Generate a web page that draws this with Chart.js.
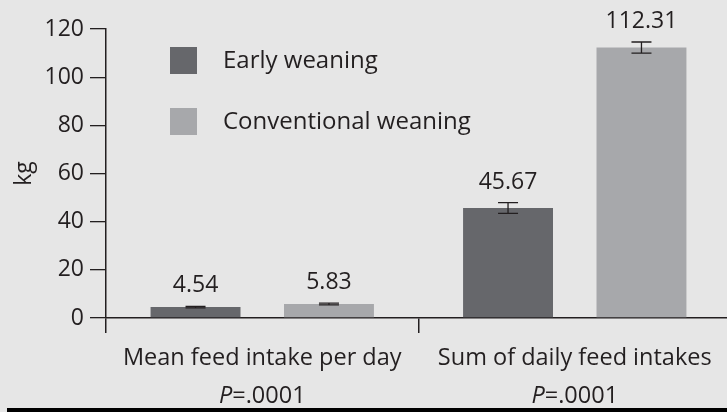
<!DOCTYPE html>
<html>
<head>
<meta charset="utf-8">
<script src="https://cdn.jsdelivr.net/npm/chart.js@4/dist/chart.umd.min.js"></script>
<style>
  html, body { margin: 0; padding: 0; background: #e6e6e6; overflow: hidden; }
  #wrap { width: 727px; height: 412px; overflow: hidden; }
</style>
</head>
<body>
<div id="wrap"><canvas id="grafico" width="731" height="412"></canvas></div>
<script>
// datos
const categorias = ['Mean feed intake per day', 'Sum of daily feed intakes'];
const valoresP = ['=.0001', '=.0001'];
const destete = ['Early weaning', 'Conventional weaning'];
const earlyWeaning = [4.54, 45.67];
const conventionalWeaning = [5.83, 112.31];
const earlyError = [0.3, 2.2];
const conventionalError = [0.35, 2.3];
const ejeY = { min: 0, max: 120, paso: 20 };

const texto = '#231f20';
const fuente = '"Open Sans", "Noto Sans", sans-serif';

//Leyenda, barras de error, etiquetas de valores y linea inferior
const extras = {
  id: 'extras',
  afterDatasetsDraw(chart) {
    const ctx = chart.ctx;
    const y = chart.scales.y;
    const errores = [earlyError, conventionalError];
    ctx.save();
    chart.data.datasets.forEach(function(ds, i) {
      const meta = chart.getDatasetMeta(i);
      meta.data.forEach(function(bar, j) {
        const v = ds.data[j];
        const e = errores[i][j];
        const top = y.getPixelForValue(v + e);
        const bot = y.getPixelForValue(v - e);
        ctx.strokeStyle = texto;
        ctx.lineWidth = 1.3;
        ctx.beginPath();
        ctx.moveTo(bar.x, top); ctx.lineTo(bar.x, bot);
        ctx.moveTo(bar.x - 10, top); ctx.lineTo(bar.x + 10, top);
        ctx.moveTo(bar.x - 10, bot); ctx.lineTo(bar.x + 10, bot);
        ctx.stroke();
        ctx.fillStyle = texto;
        ctx.font = '23px ' + fuente;
        ctx.textAlign = 'center';
        ctx.textBaseline = 'alphabetic';
        ctx.fillText(v.toFixed(2), bar.x, top - 14);
      });
    });

    // leyenda
    chart.data.datasets.forEach(function(ds, i) {
      const ly = 47 + i * 61;
      ctx.fillStyle = ds.backgroundColor;
      ctx.fillRect(170, ly, 27, 27);
      ctx.fillStyle = texto;
      ctx.font = '24px ' + fuente;
      ctx.textAlign = 'left';
      ctx.textBaseline = 'middle';
      ctx.fillText(ds.label, 223, ly + 14);
    });

    // segunda linea de las etiquetas: P en cursiva
    const x = chart.scales.x;
    categorias.forEach(function(c, k) {
      const cx = x.getPixelForValue(k);
      ctx.font = '23.5px ' + fuente;
      const w2 = ctx.measureText(valoresP[k]).width;
      ctx.font = 'italic 23.5px ' + fuente;
      const w1 = ctx.measureText('P').width;
      const x0 = cx - (w1 + w2) / 2;
      ctx.textAlign = 'left';
      ctx.textBaseline = 'middle';
      ctx.fillStyle = texto;
      ctx.fillText('P', x0, 396);
      ctx.font = '23.5px ' + fuente;
      ctx.fillText(valoresP[k], x0 + w1, 396);
    });

    ctx.fillStyle = '#000';
    ctx.fillRect(7, 408, 724, 4);
    ctx.restore();
  }
};

let graf = new Chart(document.getElementById('grafico').getContext('2d'), {
  type: 'bar',
  data: {
    labels: categorias,
    datasets: [{
      label: destete[0],
      data: earlyWeaning,
      backgroundColor: '#66676b'
    }, {
      label: destete[1],
      data: conventionalWeaning,
      backgroundColor: '#a7a8ab'
    }]
  },
  options: {
    responsive: false,
    animation: false,
    categoryPercentage: 0.854,
    barPercentage: 0.674,
    layout: { padding: { top: 29, right: 0, bottom: 0, left: 0 } },
    plugins: {
      legend: { display: false },
      tooltip: { enabled: false }
    },
    scales: {
      x: {
        afterFit: function(s) { s.height = 94; },
        border: { color: texto, width: 1.5 },
        grid: { drawOnChartArea: false, tickLength: 15, lineWidth: 1.5, color: texto },
        ticks: { color: texto, font: { family: fuente, size: 23.5 }, padding: 11 }
      },
      y: {
        min: ejeY.min,
        max: ejeY.max,
        afterFit: function(s) { s.width = 106; },
        border: { color: texto, width: 1.5 },
        grid: { drawOnChartArea: false, tickLength: 16, lineWidth: 1.3, color: texto },
        ticks: { stepSize: ejeY.paso, color: texto, font: { family: fuente, size: 23 }, padding: 6 },
        title: { display: true, text: 'kg', color: texto, font: { family: fuente, size: 23 }, padding: 11 }
      }
    }
  },
  plugins: [extras]
});
</script>
</body>
</html>
